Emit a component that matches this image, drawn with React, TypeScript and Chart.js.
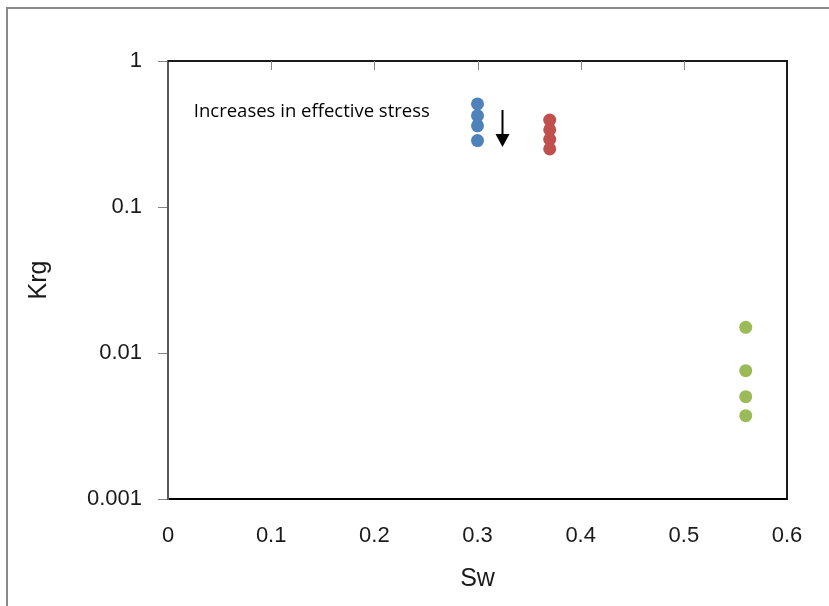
import React, { useEffect, useRef } from "react";
import { Chart, registerables } from "chart.js";

Chart.register(...registerables);

const seriesNames = ["Series A", "Series B", "Series C"];
const swA = [0.3, 0.3, 0.3, 0.3];
const krgA = [0.508, 0.422, 0.36, 0.285];
const swB = [0.37, 0.37, 0.37, 0.37];
const krgB = [0.394, 0.338, 0.291, 0.25];
const swC = [0.56, 0.56, 0.56, 0.56];
const krgC = [0.015, 0.00757, 0.00502, 0.00372];
const seriesColors = ["#4F81BD", "#C0504D", "#9BBB59"];

const xTickValues = [0, 0.1, 0.2, 0.3, 0.4, 0.5, 0.6];
const xTickLabels = ["0", "0.1", "0.2", "0.3", "0.4", "0.5", "0.6"];
const yTickValues = [0.001, 0.01, 0.1, 1];
const yTickLabels = ["0.001", "0.01", "0.1", "1"];

const xTitle = "Sw";
const yTitle = "Krg";
const noteText = "Increases in effective stress";
const noteAt = { x: 0.025, y: 0.447 };
const arrowFrom = { x: 0.324, y: 0.462 };
const arrowTo = { x: 0.324, y: 0.258 };

function pts(xs: number[], ys: number[]) {
  return xs.map((x, i) => ({ x, y: ys[i] }));
}

const decorPlugin = {
  id: "decor",
  beforeDraw(chart: any) {
    const ctx = chart.ctx;
    ctx.save();
    ctx.strokeStyle = "#8a8a8a";
    ctx.lineWidth = 2;
    ctx.strokeRect(7, 8, 1000, 1000);
    ctx.restore();
  },
  afterDraw(chart: any) {
    const ctx = chart.ctx;
    const a = chart.chartArea;
    const xs = chart.scales.x;
    const ys = chart.scales.y;
    ctx.save();
    // top & right frame
    ctx.strokeStyle = "#1a1a1a";
    ctx.lineWidth = 2;
    ctx.beginPath();
    ctx.moveTo(a.left, a.top);
    ctx.lineTo(a.right, a.top);
    ctx.lineTo(a.right, a.bottom);
    ctx.stroke();
    // top inward ticks
    ctx.strokeStyle = "#868686";
    ctx.lineWidth = 1;
    xTickValues.forEach((v) => {
      if (v <= xs.min || v >= xs.max) return;
      const px = Math.round(xs.getPixelForValue(v)) + 0.5;
      ctx.beginPath();
      ctx.moveTo(px, a.top);
      ctx.lineTo(px, a.top + 9);
      ctx.stroke();
    });
    // note
    ctx.fillStyle = "#000";
    ctx.font = "18.5px 'Open Sans'";
    ctx.textBaseline = "middle";
    ctx.textAlign = "left";
    ctx.fillText(noteText, xs.getPixelForValue(noteAt.x), ys.getPixelForValue(noteAt.y));
    // arrow
    const ax = Math.round(xs.getPixelForValue(arrowFrom.x)) + 0.5;
    const ay1 = ys.getPixelForValue(arrowFrom.y);
    const ay2 = ys.getPixelForValue(arrowTo.y);
    ctx.strokeStyle = "#000";
    ctx.lineWidth = 2;
    ctx.beginPath();
    ctx.moveTo(ax, ay1);
    ctx.lineTo(ax, ay2 - 10);
    ctx.stroke();
    ctx.beginPath();
    ctx.moveTo(ax - 7, ay2 - 13);
    ctx.lineTo(ax + 7, ay2 - 13);
    ctx.lineTo(ax, ay2);
    ctx.closePath();
    ctx.fill();
    ctx.restore();
  },
};

export default function App() {
  const ref = useRef<HTMLCanvasElement | null>(null);
  useEffect(() => {
    document.body.style.margin = "0";
    const canvas = ref.current!;
    const chart = new Chart(canvas, {
      type: "scatter",
      data: {
        datasets: [
          { label: seriesNames[0], data: pts(swA, krgA), backgroundColor: seriesColors[0] },
          { label: seriesNames[1], data: pts(swB, krgB), backgroundColor: seriesColors[1] },
          { label: seriesNames[2], data: pts(swC, krgC), backgroundColor: seriesColors[2] },
        ].map((d) => ({ ...d, pointRadius: 6.5, pointBorderWidth: 0, borderColor: d.backgroundColor, pointHoverRadius: 6.5 })),
      },
      options: {
        responsive: false,
        animation: false,
        events: [],
        layout: { padding: { top: 61, right: 42, bottom: 0, left: 0 } },
        plugins: { legend: { display: false }, tooltip: { enabled: false } },
        scales: {
          x: {
            type: "linear",
            min: 0,
            max: 0.6,
            afterBuildTicks: (s: any) => {
              s.ticks = xTickValues.map((v) => ({ value: v }));
            },
            afterFit: (s: any) => {
              s.height = 107;
            },
            ticks: {
              callback: (v: any) => xTickLabels[xTickValues.indexOf(Number((+v).toFixed(1)))] ?? "",
              font: { family: "'Liberation Sans', Arial", size: 22 },
              color: "#1a1a1a",
              padding: 24,
              maxRotation: 0,
              autoSkip: false,
            },
            grid: { display: false, drawTicks: false },
            border: { display: true, color: "#000", width: 2 },
            title: {
              display: true,
              text: xTitle,
              font: { family: "'Liberation Sans', Arial", size: 25 },
              color: "#1a1a1a",
              padding: { top: 0, bottom: 12 },
            },
          },
          y: {
            type: "logarithmic",
            min: 0.001,
            max: 1,
            afterBuildTicks: (s: any) => {
              s.ticks = yTickValues.map((v) => ({ value: v }));
            },
            afterFit: (s: any) => {
              s.width = 168;
            },
            ticks: {
              callback: (v: any) => {
                const i = yTickValues.findIndex((t) => Math.abs(t - Number(v)) / t < 1e-6);
                return i >= 0 ? yTickLabels[i] : "";
              },
              font: { family: "'Liberation Sans', Arial", size: 22 },
              color: "#1a1a1a",
              padding: 16,
              autoSkip: false,
            },
            grid: { display: true, drawOnChartArea: false, drawTicks: true, tickLength: 10, color: "#868686", lineWidth: 1 },
            border: { display: true, color: "#595959", width: 2 },
            title: {
              display: true,
              text: yTitle,
              font: { family: "'Liberation Sans', Arial", size: 25 },
              color: "#1a1a1a",
              padding: { top: 24, bottom: 0 },
            },
          },
        },
      },
      plugins: [decorPlugin],
    } as any);
    return () => chart.destroy();
  }, []);
  return (
    <div style={{ width: 829, height: 606 }}>
      <canvas ref={ref} width={829} height={606} style={{ display: "block" }} />
    </div>
  );
}
